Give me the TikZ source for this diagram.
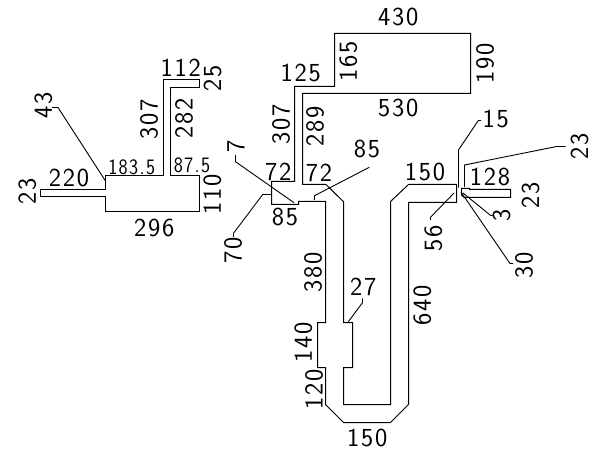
\documentclass[tikz,border=0pt]{standalone}
\usepackage{fontspec}
\newfontfamily\dimfont[LetterSpace=7]{Latin Modern Sans}
\usepackage{xcolor}
\tikzset{
    outline/.style={line width=1pt,color=black},
    leader/.style={line width=0.9pt,color=black},
    dimh/.style={inner sep=0pt,font=\dimfont\fontsize{26}{26}\selectfont},
    dimv/.style={dimh,rotate=90},
    dimsmall/.style={inner sep=0pt,xscale=0.88,font=\dimfont\fontsize{22}{22}\selectfont}
}
\begin{document}
\begin{tikzpicture}[x=1pt,y=-1pt]
                    \useasboundingbox (0,0) rectangle (589,449);

                    \draw[outline] (163.5,79.5) -- (199.5,79.5) -- (199.5,87.5) -- (170.5,87.5) -- (170.5,175.5) -- (199.5,175.5) -- (199.5,211.5) -- (105.5,211.5) -- (105.5,196.5) -- (40.5,196.5) -- (40.5,189.5) -- (105.5,189.5) -- (105.5,175.5) -- (163.5,175.5) -- cycle;
                    \draw[leader] (105.5,181) -- (58,107.5) -- (52,107.5);

                    \draw[outline] (334.5,33.5) -- (470.5,33.5) -- (470.5,93.5) -- (302.5,93.5) -- (302.5,184.5) -- (326,184.5) -- (343.5,201.7) -- (343.5,322.5) -- (352.5,322.5) -- (352.5,367.5) -- (343.5,367.5) -- (343.5,404.5) -- (390.5,404.5) -- (390.5,201.5) -- (408.5,184.5) -- (456.5,184.5) -- (456.5,202.5) -- (408.5,202.5) -- (408.5,404.5) -- (390.5,422.5) -- (343.5,422.5) -- (325.5,404.5) -- (325.5,367.5) -- (317.5,367.5) -- (317.5,322.5) -- (325.5,322.5) -- (325.5,201.5) -- (298.5,201.5) -- (298.5,204.5) -- (271.5,204.5) -- (271.5,181.5) -- (294.5,181.5) -- (294.5,86.5) -- (334.5,86.5) -- cycle;

                    \draw[outline] (461.5,188.5) -- (469.5,188.5) -- (469.5,189.5) -- (510.5,189.5) -- (510.5,197.5) -- (464,197.5) -- (461.5,195) -- cycle;

                    \draw[leader] (294,202.7) -- (235.5,161.7) -- (235.5,155);
                    \draw[leader] (271.5,194.5) -- (262.7,194.5) -- (233.5,233.3) -- (233.5,237);
                    \draw[leader] (314.5,200) -- (314.5,195.7) -- (369.3,167.3);
                    \draw[leader] (348.3,321.7) -- (362.5,302.7) -- (362.5,298.3);
                    \draw[leader] (458.5,187.7) -- (458.5,150) -- (478.3,120.5) -- (481,120.5);
                    \draw[leader] (464.5,187) -- (464.5,165) -- (556.7,146.5) -- (565.7,146.5);
                    \draw[leader] (454,193) -- (430.5,217.3) -- (430.5,220);
                    \draw[leader] (463,193) -- (490.7,215.5) -- (493,215.5);
                    \draw[leader] (461,192) -- (510,263.5) -- (513,263.5);

                    \node[dimv] (lefta) at (43.3,105.7) {43};
                    \node[dimv] (leftb) at (27.3,191.7) {23};
                    \node[dimh] (leftc) at (69,177.7) {220};
                    \node[dimsmall] (leftd) at (131.7,167.3) {183.5};
                    \node[dimsmall] (lefte) at (192,165) {87.5};
                    \node[dimh] (leftf) at (154.3,227.7) {296};
                    \node[dimv] (leftg) at (212.3,194) {110};
                    \node[dimv] (lefth) at (184,118.3) {282};
                    \node[dimv] (lefti) at (149,119.3) {307};
                    \node[dimh] (leftj) at (180.7,67.3) {112};
                    \node[dimv] (leftk) at (212.7,78.3) {25};

                    \node[dimh] (topa) at (398.3,16.7) {430};
                    \node[dimv] (topb) at (485,63.3) {190};
                    \node[dimv] (topc) at (348.3,61.7) {165};
                    \node[dimh] (topd) at (300.7,73.3) {125};
                    \node[dimh] (tope) at (398.3,108.3) {530};
                    \node[dimv] (topf) at (281,124) {307};
                    \node[dimv] (topg) at (315,126) {289};

                    \node[dimh] (mida) at (278.3,172.3) {72};
                    \node[dimh] (midb) at (319,173.3) {72};
                    \node[dimh] (midc) at (285,217.3) {85};
                    \node[dimv] (midd) at (236,146.7) {7};
                    \node[dimv] (mide) at (233,250) {70};
                    \node[dimh] (midf) at (367,149) {85};

                    \node[dimv] (lowa) at (313,272) {380};
                    \node[dimv] (lowb) at (303.3,342.7) {140};
                    \node[dimv] (lowc) at (314,389.3) {120};
                    \node[dimh] (lowd) at (363.3,287.3) {27};
                    \node[dimv] (lowe) at (422.3,305) {640};
                    \node[dimh] (lowf) at (367.3,437.7) {150};

                    \node[dimh] (rta) at (425,171.7) {150};
                    \node[dimh] (rtb) at (490,177.3) {128};
                    \node[dimh] (rtc) at (495.7,119.3) {15};
                    \node[dimv] (rtd) at (579.5,146.7) {23};
                    \node[dimv] (rte) at (530.7,195) {23};
                    \node[dimv] (rtf) at (501.7,215) {3};
                    \node[dimv] (rtg) at (524,265) {30};
                    \node[dimv] (rth) at (433.3,238.3) {56};
                \end{tikzpicture}
\end{document}
